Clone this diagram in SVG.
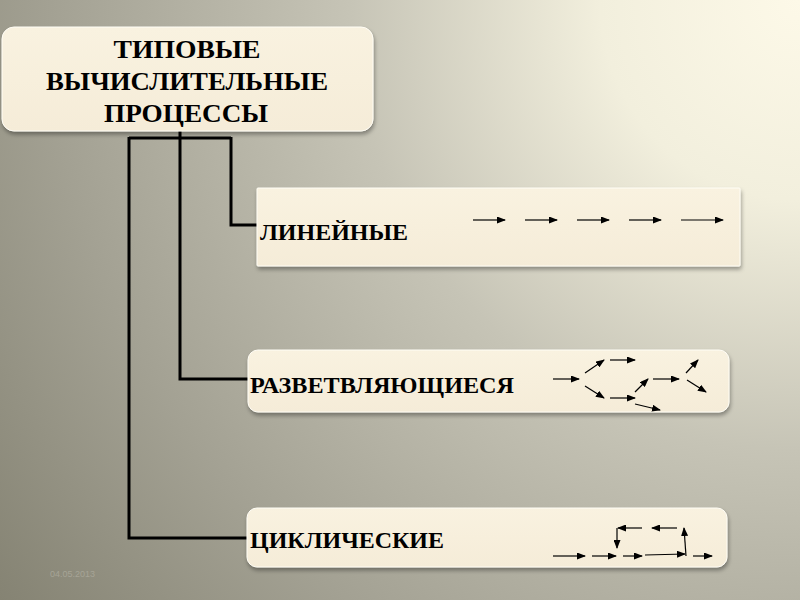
<svg xmlns="http://www.w3.org/2000/svg" width="800" height="600" viewBox="0 0 800 600">
  <defs>
    <radialGradient id="bg" gradientUnits="userSpaceOnUse" cx="800" cy="0" r="1000">
      <stop offset="0" stop-color="#fdf9e8"/>
      <stop offset="0.2" stop-color="#f2efdd"/>
      <stop offset="0.45" stop-color="#c6c4b6"/>
      <stop offset="0.75" stop-color="#a3a193"/>
      <stop offset="1" stop-color="#858373"/>
    </radialGradient>
    <linearGradient id="box" x1="0" y1="0" x2="0" y2="1">
      <stop offset="0" stop-color="#f9f2e0"/>
      <stop offset="1" stop-color="#f5ecd8"/>
    </linearGradient>
    <filter id="sh" x="-5%" y="-10%" width="110%" height="130%">
      <feGaussianBlur in="SourceAlpha" stdDeviation="2"/>
      <feOffset dx="1" dy="3" result="b"/>
      <feComponentTransfer><feFuncA type="linear" slope="0.35"/></feComponentTransfer>
      <feMerge><feMergeNode/><feMergeNode in="SourceGraphic"/></feMerge>
    </filter>
    <marker id="ah" markerUnits="userSpaceOnUse" markerWidth="9" markerHeight="7" refX="8" refY="3.5" orient="auto">
      <path d="M0,0 L9,3.5 L0,7 Z" fill="#000"/>
    </marker>
  </defs>
  <style>
    .box { fill: url(#box); stroke: #fffdf5; stroke-width: 1; filter: url(#sh); }
    .lbl { font-family: "Liberation Serif", "Times New Roman", serif; font-weight: bold; fill: #000; }
    .conn { fill: none; stroke: #000; stroke-width: 3; }
    .ar { fill: none; stroke: #000; stroke-width: 1.2; marker-end: url(#ah); }
    .date { font-family: "Liberation Sans", Arial, sans-serif; font-size: 9px; fill: #a6a496; }
  </style>

  <rect width="800" height="600" fill="url(#bg)"/>

  <g id="connectors">
    <path class="conn" d="M180,131 V379 H249"/>
    <path class="conn" d="M129,138 H231"/>
    <path class="conn" d="M231,137 V225 H258"/>
    <path class="conn" d="M129,137 V538 H248"/>
  </g>

  <g id="root">
    <rect class="box" x="2" y="27" width="371" height="104" rx="12"/>
    <text class="lbl" font-size="26" text-anchor="middle" x="187" y="58" textLength="147" lengthAdjust="spacingAndGlyphs">ТИПОВЫЕ</text>
    <text class="lbl" font-size="26" text-anchor="middle" x="187" y="90" textLength="282" lengthAdjust="spacingAndGlyphs">ВЫЧИСЛИТЕЛЬНЫЕ</text>
    <text class="lbl" font-size="26" text-anchor="middle" x="186" y="122" textLength="164" lengthAdjust="spacingAndGlyphs">ПРОЦЕССЫ</text>
  </g>

  <g id="linear">
    <rect class="box" x="257" y="188" width="483" height="78" rx="1"/>
    <text class="lbl" font-size="23" x="260" y="240" textLength="148" lengthAdjust="spacingAndGlyphs">ЛИНЕЙНЫЕ</text>
    <g>
      <line class="ar" x1="473" y1="220" x2="505" y2="220"/>
      <line class="ar" x1="525" y1="220" x2="557" y2="220"/>
      <line class="ar" x1="577" y1="220" x2="609" y2="220"/>
      <line class="ar" x1="629" y1="220" x2="661" y2="220"/>
      <line class="ar" x1="681" y1="220" x2="723" y2="220"/>
    </g>
  </g>

  <g id="branching">
    <rect class="box" x="248" y="350" width="481" height="62" rx="10"/>
    <text class="lbl" font-size="23" x="250" y="393" textLength="264" lengthAdjust="spacingAndGlyphs">РАЗВЕТВЛЯЮЩИЕСЯ</text>
    <g>
      <line class="ar" x1="553" y1="379" x2="579" y2="379"/>
      <line class="ar" x1="585" y1="373" x2="604" y2="360"/>
      <line class="ar" x1="610" y1="360" x2="635" y2="360"/>
      <line class="ar" x1="585" y1="386" x2="604" y2="398"/>
      <line class="ar" x1="610" y1="398" x2="635" y2="398"/>
      <line class="ar" x1="635" y1="392" x2="648" y2="379"/>
      <line class="ar" x1="653" y1="379" x2="679" y2="379"/>
      <line class="ar" x1="686" y1="373" x2="698" y2="360"/>
      <line class="ar" x1="687" y1="380" x2="706" y2="392"/>
      <line class="ar" x1="635" y1="404" x2="660" y2="410"/>
    </g>
  </g>

  <g id="cyclic">
    <rect class="box" x="247" y="508" width="480" height="59" rx="10"/>
    <text class="lbl" font-size="23" x="250" y="548" textLength="194" lengthAdjust="spacingAndGlyphs">ЦИКЛИЧЕСКИЕ</text>
    <g>
      <line class="ar" x1="553" y1="556" x2="585" y2="556"/>
      <line class="ar" x1="592" y1="556" x2="616" y2="556"/>
      <line class="ar" x1="623" y1="556" x2="642" y2="556"/>
      <line class="ar" x1="645" y1="555" x2="685" y2="554"/>
      <line class="ar" x1="686" y1="556" x2="684" y2="528"/>
      <line class="ar" x1="693" y1="556" x2="712" y2="556"/>
      <line class="ar" x1="677" y1="528" x2="652" y2="528"/>
      <line class="ar" x1="642" y1="528" x2="618" y2="528"/>
      <line class="ar" x1="617" y1="528" x2="617" y2="548"/>
    </g>
  </g>

  <text class="date" x="50" y="577">04.05.2013</text>
</svg>
